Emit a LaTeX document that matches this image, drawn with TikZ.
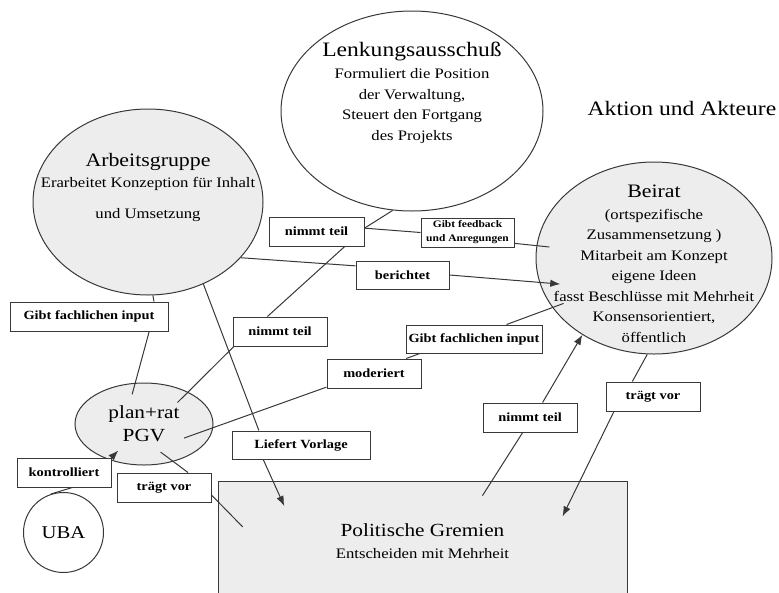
\documentclass[tikz,border=0pt]{standalone}
\usepackage{fontspec}
\setmainfont{Liberation Serif}[FakeStretch=1.15]
\usetikzlibrary{shapes.geometric,arrows.meta}
\definecolor{bubblegray}{gray}{0.93}
\definecolor{linegray}{gray}{0.22}

\begin{document}
\begin{tikzpicture}[
  x=1pt, y=-1pt,
  bubble/.style={ellipse, draw=linegray, line width=1pt, fill=bubblegray, inner sep=0pt},
  blurb/.style={align=center, font=\fontsize{14.5}{20.5}\selectfont},
  labelbox/.style={draw=linegray, line width=1pt, fill=white, minimum width=94pt, minimum height=29pt, inner sep=2pt, font=\bfseries\fontsize{12.5}{15}\selectfont},
  link/.style={draw=linegray, line width=1pt},
  arrowlink/.style={link, -{Latex[length=10pt,width=7.5pt]}}
  ]
	\useasboundingbox (0,0) rectangle (779,592);
	\clip (0,0) rectangle (779,592);

	\node[bubble, fill=white, minimum width=262pt, minimum height=200pt] (lenk) at (412,111) {};
	\node[blurb] (lenk-text) at (412,93) {{\fontsize{20.5}{24}\selectfont Lenkungsausschuß}\\[1.5pt] Formuliert die Position\\ der Verwaltung,\\ Steuert den Fortgang\\ des Projekts};

	\node[bubble, minimum width=230pt, minimum height=186pt] (ag) at (148,202) {};
	\node[blurb] (ag-text) at (148,187) {{\fontsize{19}{23}\selectfont Arbeitsgruppe}\\[1pt] Erarbeitet Konzeption für Inhalt\\[10pt] und Umsetzung};

	\node[bubble, minimum width=236pt, minimum height=192pt] (beirat) at (654,258) {};
	\node[blurb] (beirat-text) at (654,264) {{\fontsize{19}{23}\selectfont Beirat}\\[1pt] (ortspezifische\\ Zusammensetzung )\\ Mitarbeit am Konzept\\ eigene Ideen\\ fasst Beschlüsse mit Mehrheit\\ Konsensorientiert,\\ öffentlich};

	\node[font=\fontsize{20.5}{24}\selectfont] (title) at (682,108) {Aktion und Akteure};

	\node[bubble, minimum width=138pt, minimum height=82pt, align=center, font=\fontsize{18.5}{23}\selectfont] (pgv) at (144,424) {plan+rat\\PGV};
	\node[bubble, circle, fill=white, minimum size=80pt, font=\fontsize{18}{22}\selectfont] (uba) at (63.5,532.5) {UBA};

	\node[draw=linegray, line width=1pt, fill=bubblegray, minimum width=409pt, minimum height=120pt, align=center, font=\fontsize{14.5}{22}\selectfont] (gremien) at (422.5,541) {{\fontsize{18.5}{22}\selectfont Politische Gremien}\\ Entscheiden mit Mehrheit};

	\node[labelbox, minimum width=95pt] (nt1) at (316.5,231.5) {nimmt teil};
	\node[labelbox, minimum width=93pt, font=\bfseries\fontsize{10}{14}\selectfont, align=center] (feedback) at (467.5,232.5) {Gibt feedback\\und Anregungen};
	\node[labelbox, minimum width=93pt, minimum height=28pt] (bericht) at (402.5,275) {berichtet};
	\node[labelbox] (nt2) at (280,331.5) {nimmt teil};
	\node[labelbox, minimum width=136pt, minimum height=28pt] (input1) at (474,339) {Gibt fachlichen input};
	\node[labelbox] (moder) at (374,373.5) {moderiert};
	\node[labelbox, minimum width=158pt] (input2) at (89,316.5) {Gibt fachlichen input};
	\node[labelbox, minimum width=138pt, minimum height=28pt] (liefert) at (301,445) {Liefert Vorlage};
	\node[labelbox] (kontr) at (64,472.5) {kontrolliert};
	\node[labelbox] (traegt1) at (164,487.5) {trägt vor};
	\node[labelbox] (nt3) at (530,417.5) {nimmt teil};
	\node[labelbox] (traegt2) at (653,396.5) {trägt vor};

	\draw[link] (lenk.-101) -- (nt1.4);
	\draw[link] (nt1.4) -- (feedback.west);
	\draw[link, shorten >=-13pt] (feedback.-13) -- (beirat.174);
	\draw[link] (nt1.-28) -- (nt2.130);
	\draw[link, shorten >=-15pt] (nt2.198) -- (pgv.36);

	\draw[link] (ag.-31) -- (bericht.169);
	\draw[arrowlink, shorten >=-21pt] (bericht.east) -- (beirat.192);

	\draw[link, shorten <=-12pt] (beirat.206) -- (input1.24);
	\draw[link] (input1.195) -- (moder.25);
	\draw[link, shorten >=-31pt] (moder.196) -- (pgv.-3);

	\draw[link] (ag.-56) -- (liefert.161);
	\draw[arrowlink, shorten >=-28pt] (liefert.201) -- (gremien.158);

	\draw[link] (ag.-87) -- (input2.13);
	\draw[link, shorten >=-12pt] (input2.-14) -- (pgv.102);

	\draw[link] (uba.108) -- (kontr.-61);
	\draw[arrowlink, shorten >=37pt] (kontr.north east) -- (pgv.center);

	\draw[link, shorten <=-16pt] (pgv.-52) -- (traegt1.32);
	\draw[link, shorten >=-36pt] (traegt1.-9) -- (gremien.169);

	\draw[link, shorten <=-18pt] (gremien.41) -- (nt3.-116);
	\draw[arrowlink] (nt3.50) -- (beirat.227);

	\draw[link] (beirat.266) -- (traegt2.144);
	\draw[arrowlink, shorten >=-40pt] (traegt2.201) -- (gremien.21);
\end{tikzpicture}
\end{document}
